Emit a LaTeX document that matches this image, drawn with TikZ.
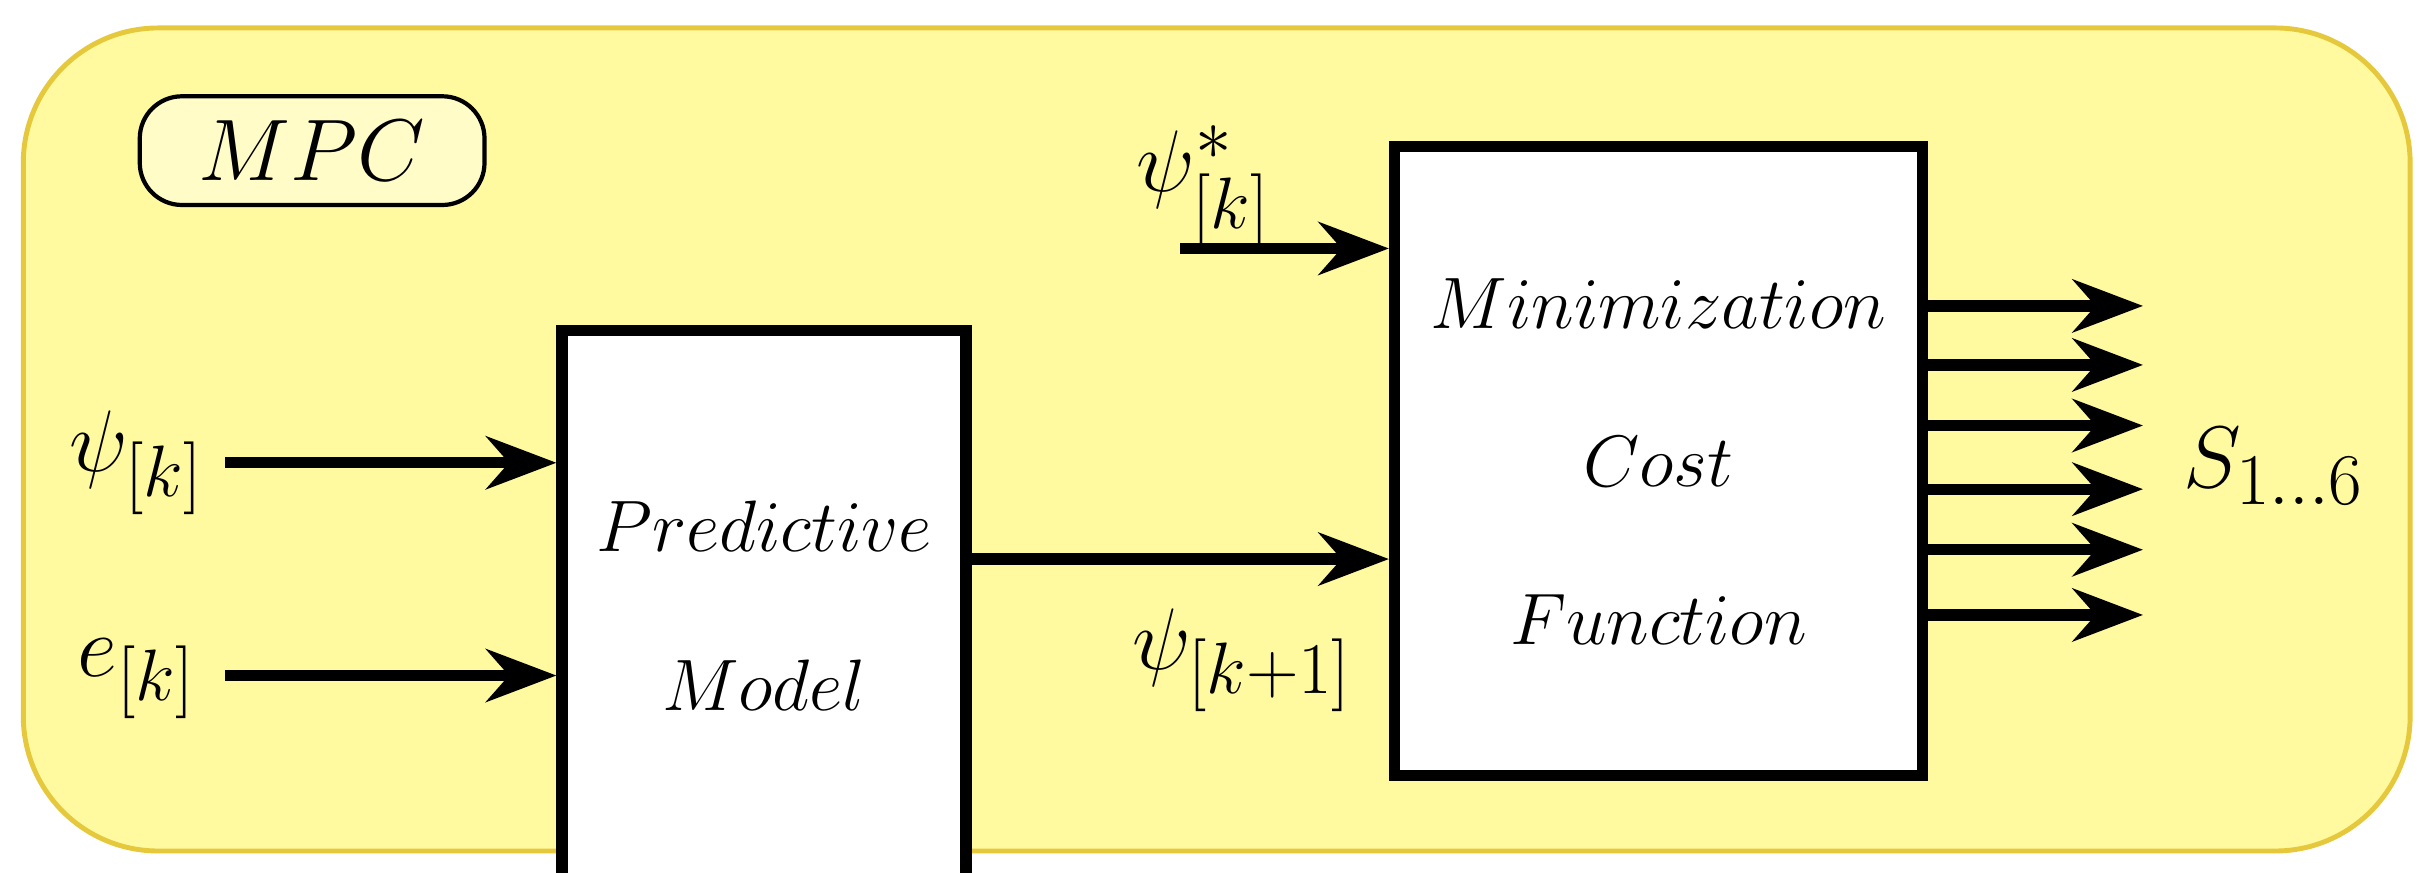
\documentclass[tikz,border=0pt]{standalone}
\usepackage{amsmath}
\usetikzlibrary{arrows.meta}
\begin{document}
\begin{tikzpicture}[x=0.01553cm,y=-0.01553cm,
  blk/.style={draw,line width=3.2pt,fill=white,inner sep=0pt},
  arr/.style={line width=3.2pt,-{Stealth[length=20pt,width=15pt]}},
  lbl/.style={font=\fontsize{31}{36}\selectfont},
  txt/.style={align=center,font=\fontsize{22.5}{45}\selectfont}]
\useasboundingbox (0,0) rectangle (1568,562);
\draw[fill={rgb,255:red,255;green,250;blue,160},draw={rgb,255:red,230;green,200;blue,60},line width=1.4pt,rounded corners=1.35cm] (15,18) rectangle (1552,548);
\path[draw=black,line width=1.2pt,fill={rgb,255:red,255;green,252;blue,200},rounded corners=12pt] (90,62) rectangle (312,132);
\node[txt,font=\fontsize{26}{30}\selectfont] (mpct) at (201,97) {$MPC$};
\node[blk,minimum width=4.04cm,minimum height=5.51cm] (pm) at (492,390) {};
\node[txt] (pmt) at (492,390) {$Predictive$\\$Model$};
\node[blk,minimum width=5.28cm,minimum height=6.29cm] (mc) at (1068,297) {};
\node[txt] (mct) at (1068,297) {$Minimization$\\$Cost$\\$Function$};
\node[lbl] (psi) at (88,298) {$\psi_{[k]}$};
\node[lbl] (e) at (88,437) {$e_{[k]}$};
\node[lbl] (psin) at (800,425) {$\psi_{[k+1]}$};
\node[lbl] (psis) at (775,120) {$\psi^{*}_{[k]}$};
\node[lbl,anchor=west] (s) at (1398,300) {$S_{1\ldots6}$};
\coordinate (a1) at (145,298); \coordinate (a2) at (145,435); \coordinate (a3) at (760,160);
\draw[arr] (a1) -- (a1-|pm.west);
\draw[arr] (a2) -- (a2-|pm.west);
\draw[arr] (pm.east|-0,360) -- (mc.west|-0,360);
\draw[arr] (a3) -- (a3-|mc.west);
\foreach \y in {197,235,274,315,354,396}{
  \coordinate (o\y) at (1380,\y);
  \draw[arr] (mc.east|-o\y) -- (o\y);}
\end{tikzpicture}
\end{document}
